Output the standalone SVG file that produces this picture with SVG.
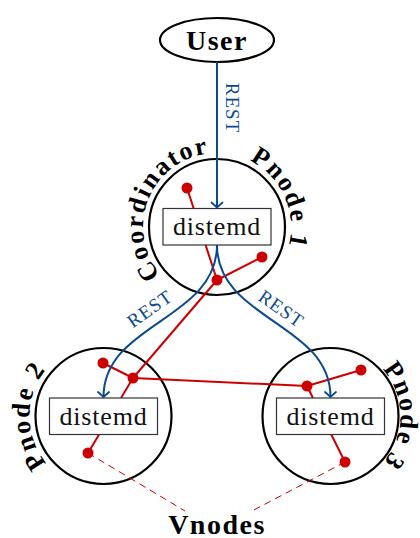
<svg xmlns="http://www.w3.org/2000/svg" width="420" height="538" viewBox="0 0 420 538">
<style>
.c{fill:none;stroke:#000;stroke-width:2.2}
.box{fill:#fff;stroke:#333;stroke-width:1.2}
.bt{font-family:"Liberation Serif",serif;font-size:26px;letter-spacing:0.8px;fill:#111;text-anchor:middle}
.lbl{font-family:"Liberation Serif",serif;font-weight:bold;font-size:26px;letter-spacing:2px;fill:#000;text-anchor:middle}
.big{font-family:"Liberation Serif",serif;font-weight:bold;font-size:28px;letter-spacing:1.5px;fill:#000;text-anchor:middle}
.rl{stroke:#cc0000;stroke-width:2;fill:none}
.rd{fill:#cc0000}
.bl{stroke:#0b4a8f;stroke-width:2;fill:none}
.rest{font-family:"Liberation Serif",serif;font-size:19px;letter-spacing:1px;fill:#0b4a8f;text-anchor:middle}
.dash{stroke:#cc0000;stroke-width:1;stroke-dasharray:7 5;fill:none}
</style>
<defs>
<marker id="arr" markerUnits="userSpaceOnUse" markerWidth="14" markerHeight="14" refX="0" refY="0" viewBox="-7 -7 14 14" orient="auto" overflow="visible">
<path d="M-5,-5.5 Q-1.5,-1.5 0,0 Q-1.5,1.5 -5,5.5" fill="none" stroke="#0b4a8f" stroke-width="1.8" stroke-linecap="round"/>
</marker>
<path id="arcCoord" d="M189.28,295.61 A74,74 0 0 1 148.39,199.28 A74,74 0 0 1 244.72,158.39"/>
<path id="arcP1" d="M186.90,159.40 A74,74 0 0 1 284.60,196.90 A74,74 0 0 1 247.10,294.60"/>
<path id="arcP2" d="M103.5,490 A74,74 0 0 1 29.5,416 A74,74 0 0 1 103.5,342"/>
<path id="arcP3" d="M330.5,346 A70,70 0 0 1 400.5,416 A70,70 0 0 1 330.5,486"/>
</defs>

<g id="user">
<ellipse cx="217" cy="40" rx="57" ry="22" class="c"/>
<text x="217" y="50" class="big">User</text>
</g>

<g id="coordinator">
<circle cx="217" cy="227" r="68" class="c"/>
<text class="lbl"><textPath href="#arcCoord" startOffset="50%">Coordinator</textPath></text>
<text class="lbl"><textPath href="#arcP1" startOffset="50%">Pnode 1</textPath></text>
</g>

<g id="pnode2">
<circle cx="103.5" cy="416" r="68" class="c"/>
<text class="lbl"><textPath href="#arcP2" startOffset="50%">Pnode 2</textPath></text>
</g>

<g id="pnode3">
<circle cx="330.5" cy="416" r="68" class="c"/>
<text class="lbl"><textPath href="#arcP3" startOffset="50%">Pnode 3</textPath></text>
</g>

<g id="vnode-links">
<path class="rl" d="M187,188 L193.7,208.5 M205.6,245 L217,280"/>
<path class="rl" d="M262,257 L217,280"/>
<path class="rl" d="M217,280 L133,378"/>
<path class="rl" d="M103,363 L133,378"/>
<path class="rl" d="M133,378 L307,386"/>
<path class="rl" d="M133,378 L121,398 M99.4,434 L88,453"/>
<path class="rl" d="M361,370 L307,386"/>
<path class="rl" d="M307,386 L313,398 M331,434 L345,462"/>
<path class="dash" d="M88,453 L185,511"/>
<path class="dash" d="M345,462 L252,511"/>
</g>

<g id="distemd-coordinator">
<rect x="163" y="208.5" width="108" height="36.5" class="box"/>
<text x="217" y="235" class="bt">distemd</text>
</g>
<g id="distemd-pnode2">
<rect x="49.5" y="398" width="108" height="36.5" class="box"/>
<text x="103.5" y="424.5" class="bt">distemd</text>
</g>
<g id="distemd-pnode3">
<rect x="276.5" y="398" width="108" height="36.5" class="box"/>
<text x="330.5" y="424.5" class="bt">distemd</text>
</g>

<g id="connectors">
<path class="bl" d="M217,62 L217,207.5" marker-end="url(#arr)"/>
<path class="bl" d="M217,245 C217,320 103.5,323 103.5,397" marker-end="url(#arr)"/>
<path class="bl" d="M217,245 C217,320 330.5,323 330.5,397" marker-end="url(#arr)"/>
<text class="rest" transform="translate(232,108) rotate(90)" x="0" y="6">REST</text>
<text class="rest" transform="translate(150,309) rotate(-35)" x="0" y="6">REST</text>
<text class="rest" transform="translate(281,309) rotate(35)" x="0" y="6">REST</text>
</g>

<g id="vnodes">
<circle class="rd" cx="187" cy="188" r="5.5"/>
<circle class="rd" cx="262" cy="257" r="5.5"/>
<circle class="rd" cx="217" cy="280" r="5.5"/>
<circle class="rd" cx="103" cy="363" r="5.5"/>
<circle class="rd" cx="133" cy="378" r="5.5"/>
<circle class="rd" cx="88" cy="453" r="5.5"/>
<circle class="rd" cx="307" cy="386" r="5.5"/>
<circle class="rd" cx="361" cy="370" r="5.5"/>
<circle class="rd" cx="345" cy="462" r="5.5"/>
<text x="217" y="534" class="big">Vnodes</text>
</g>
</svg>
